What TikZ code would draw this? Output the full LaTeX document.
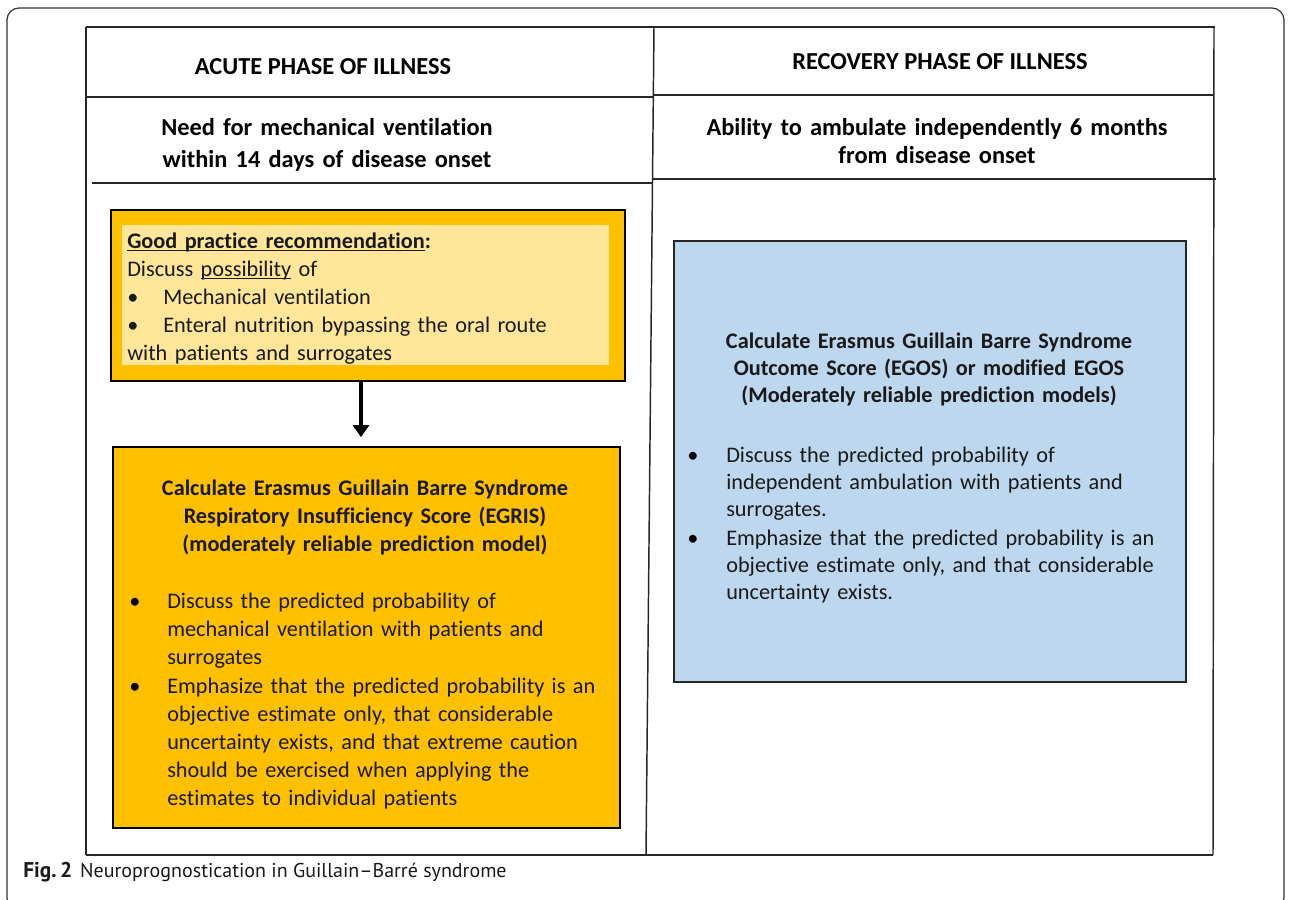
\documentclass[tikz,border=0pt]{standalone}
\usepackage{fontspec}
\setmainfont{Carlito}[Ligatures=NoCommon]
\newfontfamily\capfont{PT Sans}
\usetikzlibrary{fit,arrows.meta}
\definecolor{gold}{HTML}{FFC000}
\definecolor{palegold}{HTML}{FFE699}
\definecolor{paleblue}{HTML}{BDD7EE}
\definecolor{framegray}{HTML}{333333}
\newcommand\wul[1]{\setbox0\hbox{#1}\rlap{\rule[-2.2pt]{\wd0}{0.8pt}}\box0\relax}
\newcommand\hdfont{\fontsize{18.3pt}{23pt}\bfseries\selectfont}
\newcommand\bodyfont{\fontsize{16.7pt}{21.1pt}\selectfont}
\tikzset{
  tline/.style={line width=1.1pt, draw=black!85},
  hline/.style={line width=1.9pt, draw=black!85},
  goldbox/.style={fit=#1, inner sep=0pt, draw=black, line width=1.3pt, fill=gold},
  bluebox/.style={fit=#1, inner sep=0pt, draw=black!85, line width=1.1pt, fill=paleblue},
  hdtext/.style={font=\hdfont, inner sep=0pt, text=black},
  txt/.style={font=\bodyfont, inner sep=0pt, text=black!90, align=left, anchor=base west},
  ctxt/.style={font=\bodyfont\bfseries, inner sep=0pt, text=black!90, align=center, anchor=base},
  bul/.style={font=\bodyfont, inner sep=0pt, anchor=base, text=black},
  arr/.style={line width=3pt, -{Triangle[length=9pt,width=12pt]}}
}
\begin{document}
\begin{tikzpicture}[x=0.75pt,y=-0.75pt]
\useasboundingbox (0,0) rectangle (1290,900);
% outer frame
\draw[framegray, line width=0.9pt, rounded corners=9pt] (7,8) rectangle (1284,910);
% table
\draw[tline] (86,27) -- (1215,27);
\draw[tline] (86,27) -- (86,855);
\draw[tline] (1214,27) -- (1213,855);
\draw[tline] (86,855) -- (1213,855);
\draw[tline] (654,27) -- (646,855);
\draw[hline] (86,97) -- (654,97);
\draw[hline] (654,95) -- (1214,95);
\draw[hline] (92,183) -- (652,183);
\draw[hline] (652,179) -- (1216,179);
% headers
\node[hdtext] (acute) at (323,67) {ACUTE PHASE OF ILLNESS};
\node[hdtext] (recov) at (940,62) {RECOVERY PHASE OF ILLNESS};
\node[hdtext, align=center, anchor=base, text width=600*0.75pt] (need) at (327,135)
  {Need for mechanical ventilation\\[1.6pt]within 14 days of disease onset};
\node[hdtext, align=center, anchor=base, text width=600*0.75pt] (abil) at (937,135)
  {Ability to ambulate independently 6 months\\[-1.4pt]from disease onset};
% top good practice box
\coordinate (gpA) at (111,210); \coordinate (gpB) at (625,381);
\node[goldbox={(gpA)(gpB)}] (gp) {};
\coordinate (inA) at (122,225); \coordinate (inB) at (609,365);
\node[fit={(inA)(inB)}, inner sep=0pt, fill=palegold] (gpin) {};
\node[txt, text width=480*0.75pt] (gptext) at (127,248)
  {\textbf{\wul{Good practice recommendation}:}\\
   Discuss \wul{possibility} of\\
   \makebox[27pt][l]{•}Mechanical ventilation\\
   \makebox[27pt][l]{•}Enteral nutrition bypassing the oral route\\
   with patients and surrogates};
% bottom left EGRIS box
\coordinate (egA) at (113,447); \coordinate (egB) at (620,828);
\node[goldbox={(egA)(egB)}] (eg) {};
\draw[arr, shorten >=9*0.75pt] ([xshift=-7*0.75pt]gp.south) -- ([xshift=-5.5*0.75pt]eg.north);
\node[ctxt, text width=500*0.75pt] (egt) at (365,495)
  {Calculate Erasmus Guillain Barre Syndrome\\
   Respiratory Insufficiency Score (EGRIS)\\
   (moderately reliable prediction model)};
\node[bul] (egb1) at (135,608) {•};
\node[txt, text width=450*0.75pt] (egl1) at (167,608)
  {Discuss the predicted probability of\\
   mechanical ventilation with patients and\\
   surrogates};
\node[bul] (egb2) at (135,693) {•};
\node[txt, text width=450*0.75pt] (egl2) at (167,693)
  {Emphasize that the predicted probability is an\\
   objective estimate only, that considerable\\
   uncertainty exists, and that extreme caution\\
   should be exercised when applying the\\
   estimates to individual patients};
% right EGOS box
\coordinate (eoA) at (674,241); \coordinate (eoB) at (1186,682);
\node[bluebox={(eoA)(eoB)}] (eo) {};
\node[ctxt, text width=500*0.75pt, font=\fontsize{16.7pt}{20.6pt}\bfseries\selectfont] (eot) at (929,348)
  {Calculate Erasmus Guillain Barre Syndrome\\
   Outcome Score (EGOS) or modified EGOS\\
   (Moderately reliable prediction models)};
\node[bul] (eob1) at (693,462) {•};
\node[txt, text width=450*0.75pt, font=\fontsize{16.7pt}{20.6pt}\selectfont] (eol1) at (726,462)
  {Discuss the predicted probability of\\
   independent ambulation with patients and\\
   surrogates.};
\node[bul] (eob2) at (693,545) {•};
\node[txt, text width=450*0.75pt, font=\fontsize{16.7pt}{20.6pt}\selectfont] (eol2) at (726,545)
  {Emphasize that the predicted probability is an\\
   objective estimate only, and that considerable\\
   uncertainty exists.};
% caption
\node[anchor=base west, inner sep=0pt, font=\capfont\fontsize{15pt}{17pt}\selectfont, text=black!90] (cap) at (23,877)
  {{\fontsize{16pt}{17pt}\selectfont\textbf{Fig.\,2}}\hspace{6pt}Neuroprognostication in Guillain–Barré syndrome};
\end{tikzpicture}
\end{document}
